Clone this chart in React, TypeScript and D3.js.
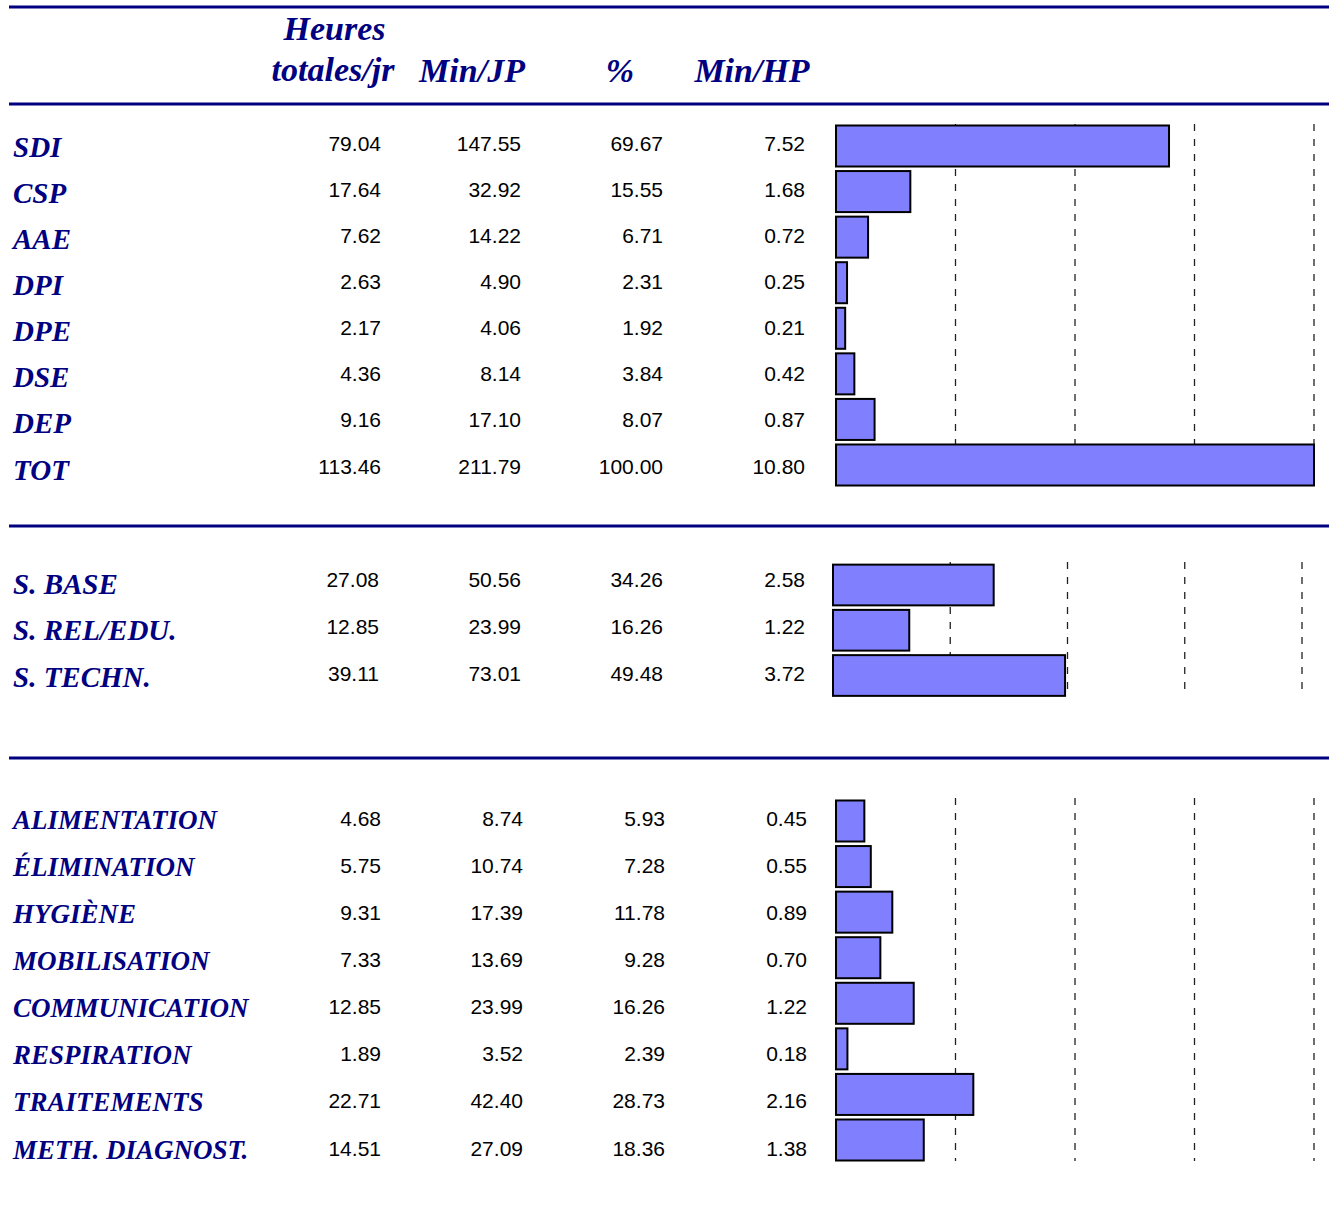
import React from 'react';
import * as d3 from 'd3';

const groupA = ['SDI', 'CSP', 'AAE', 'DPI', 'DPE', 'DSE', 'DEP', 'TOT'];
const heuresA = [79.04, 17.64, 7.62, 2.63, 2.17, 4.36, 9.16, 113.46];
const minJpA = [147.55, 32.92, 14.22, 4.9, 4.06, 8.14, 17.1, 211.79];
const pctA = [69.67, 15.55, 6.71, 2.31, 1.92, 3.84, 8.07, 100.0];
const minHpA = [7.52, 1.68, 0.72, 0.25, 0.21, 0.42, 0.87, 10.8];

const groupB = ['S. BASE', 'S. REL/EDU.', 'S. TECHN.'];
const heuresB = [27.08, 12.85, 39.11];
const minJpB = [50.56, 23.99, 73.01];
const pctB = [34.26, 16.26, 49.48];
const minHpB = [2.58, 1.22, 3.72];

const groupC = ['ALIMENTATION', 'ÉLIMINATION', 'HYGIÈNE', 'MOBILISATION', 'COMMUNICATION', 'RESPIRATION', 'TRAITEMENTS', 'METH. DIAGNOST.'];
const heuresC = [4.68, 5.75, 9.31, 7.33, 12.85, 1.89, 22.71, 14.51];
const minJpC = [8.74, 10.74, 17.39, 13.69, 23.99, 3.52, 42.4, 27.09];
const pctC = [5.93, 7.28, 11.78, 9.28, 16.26, 2.39, 28.73, 18.36];
const minHpC = [0.45, 0.55, 0.89, 0.7, 1.22, 0.18, 2.16, 1.38];

const headers = ['Min/JP', '%', 'Min/HP'];
const gridTicks = [25, 50, 75, 100];

const W = 1329;
const H = 1226;
const NAVY = '#000080';
const SERIF = '"Liberation Serif", "Times New Roman", serif';
const SANS = '"Liberation Sans", Arial, sans-serif';

// layout of each block (positions only)
const sections = [
  {
    labels: groupA, cols: [heuresA, minJpA, pctA, minHpA], pct: pctA,
    textFirst: 147, textLast: 470, numShift: 3.5, labelSize: 29,
    barX: [836, 1314], barFirst: 146, barLast: 465, grid: [124, 486],
    colX: [381, 521, 663, 805],
  },
  {
    labels: groupB, cols: [heuresB, minJpB, pctB, minHpB], pct: pctB,
    textFirst: 584, textLast: 677.5, numShift: 3, labelSize: 29,
    barX: [833, 1302], barFirst: 585, barLast: 675.5, grid: [562, 694],
    colX: [379, 521, 663, 805],
  },
  {
    labels: groupC, cols: [heuresC, minJpC, pctC, minHpC], pct: pctC,
    textFirst: 819, textLast: 1149, numShift: 6.5, labelSize: 27,
    barX: [836, 1314], barFirst: 821, barLast: 1140, grid: [798, 1161],
    colX: [381, 523, 665, 807],
  },
];

const rules = [7, 104, 526, 758];

const Section = ({ s, idx }) => {
  const n = s.labels.length;
  const text = d3.scalePoint().domain(s.labels).range([s.textFirst, s.textLast]);
  const step = n > 1 ? (s.barLast - s.barFirst) / (n - 1) : 45;
  const y = d3.scaleBand()
    .domain(s.labels)
    .range([s.barFirst - step / 2, s.barLast + step / 2])
    .paddingInner(0.1)
    .paddingOuter(0.05);
  const x = d3.scaleLinear().domain([0, 100]).range(s.barX);

  return (
    <g>
      <defs>
        <clipPath id={`clip${idx}`}>
          <rect x={0} y={0} width={1320} height={H} />
        </clipPath>
      </defs>
      {/* dashed grid behind the bars */}
      {gridTicks.map(t => (
        <line key={t} x1={x(t)} x2={x(t)} y1={s.grid[0]} y2={s.grid[1]}
          stroke="#222" strokeWidth={1.3} strokeDasharray="7 8" />
      ))}
      <g clipPath={`url(#clip${idx})`}>
        {s.labels.map((d, i) => (
          <rect key={d} x={x(0)} y={y(d)} width={x(s.pct[i]) - x(0)} height={y.bandwidth()}
            fill="#8080FF" stroke="#000" strokeWidth={2} />
        ))}
      </g>
      {s.labels.map(d => (
        <text key={d} x={13} y={text(d) + 9.5} fill={NAVY} fontFamily={SERIF}
          fontWeight="bold" fontStyle="italic" fontSize={s.labelSize}>{d}</text>
      ))}
      {s.cols.map((vals, c) => s.labels.map((d, i) => (
        <text key={`${c}-${d}`} x={s.colX[c]} y={text(d) + s.numShift} textAnchor="end"
          fontFamily={SANS} fontSize={21} fill="#000">{vals[i].toFixed(2)}</text>
      )))}
    </g>
  );
};

export default function App() {
  const headX = [472, 620, 752];
  return (
    <svg width={W} height={H} style={{ position: 'absolute', left: 0, top: 0, background: '#fff' }}>
      <rect width={W} height={H} fill="#fff" />
      {rules.map(r => (
        <line key={r} x1={9} x2={W} y1={r} y2={r} stroke={NAVY} strokeWidth={3} />
      ))}
      <g fill={NAVY} fontFamily={SERIF} fontWeight="bold" fontStyle="italic" fontSize={34} textAnchor="middle">
        <text x={334.5} y={40}>Heures</text>
        <text x={333} y={81}>totales/jr</text>
        {headers.map((h, i) => (
          <text key={h} x={headX[i]} y={82}>{h}</text>
        ))}
      </g>
      {sections.map((s, i) => <Section key={i} s={s} idx={i} />)}
    </svg>
  );
}
